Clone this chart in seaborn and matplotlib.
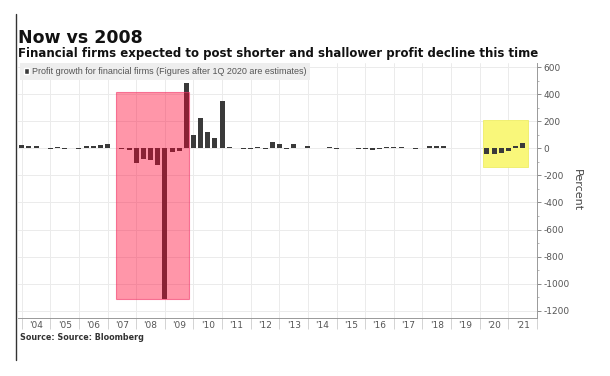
import pandas as pd
import seaborn as sns
import matplotlib.pyplot as plt
from matplotlib.patches import Rectangle, Patch
from matplotlib.lines import Line2D

# ---- data (quarterly YoY profit growth, %, first bar = 4Q 2003, plotted at quarter end)
first_period = (2003, 4)
growth = [
    28, 18, 16, 3,
    -2, 8, -2, 5,
    -2, 15, 20, 22,
    30, 4, -8, -15,
    -112, -80, -87, -125,
    -1110, -28, -22, 480,
    100, 222, 120, 73,
    347, 12, 2, -3,
    -6, 10, -2, 48,
    33, -4, 33, 3,
    18, 5, 5, 12,
    -6, 4, 2, -4,
    -4, -9, -4, 8,
    8, 12, 5, -3,
    5, 15, 15, 18,
    5, 1, 1, 1,
    1, -42, -45, -38,
    -22, 15, 38,
]
year_labels = ["'04", "'05", "'06", "'07", "'08", "'09", "'10", "'11", "'12",
               "'13", "'14", "'15", "'16", "'17", "'18", "'19", "'20", "'21"]
first_label_year = 2004
y_ticks = [-1200, -1000, -800, -600, -400, -200, 0, 200, 400, 600]
crisis_box = dict(x0=2007.31, x1=2009.86, y0=-1115, y1=415)
estimate_box = dict(x0=2020.1, x1=2021.67, y0=-135, y1=210)

title = "Now vs 2008"
subtitle = "Financial firms expected to post shorter and shallower profit decline this time"
legend_label = "Profit growth for financial firms (Figures after 1Q 2020 are estimates)"
source = "Source: Source: Bloomberg"

# ---- build table
p0 = first_period[0] * 4 + first_period[1] - 1
periods = [p0 + i for i in range(len(growth))]
df = pd.DataFrame({
    "quarter": [f"{p // 4}Q{p % 4 + 1}" for p in periods],
    "date": [p // 4 + (p % 4 + 1) / 4 for p in periods],
    "growth": growth,
})

sns.set_style("white")
plt.rcParams["font.family"] = ["DejaVu Sans"]

W, H = 610, 376
fig = plt.figure(figsize=(W / 100, H / 100), dpi=100)
L, R, T, B = 18, 537, 63, 318
ax = fig.add_axes([L / W, 1 - B / H, (R - L) / W, (B - T) / H])

bar_color = "#3a3a3a"
sns.barplot(data=df, x="date", y="growth", native_scale=True, width=0.7,
            color=bar_color, saturation=1, errorbar=None, linewidth=0, ax=ax,
            zorder=2)

ax.set_xlim(2003.87, 2022.0)
ax.set_ylim(-1253, 630)

# highlight boxes
ax.add_patch(Rectangle((estimate_box["x0"], estimate_box["y0"]),
                       estimate_box["x1"] - estimate_box["x0"],
                       estimate_box["y1"] - estimate_box["y0"],
                       facecolor="#f9f77a", edgecolor="#eeee66", lw=0.6, zorder=1))
ax.add_patch(Rectangle((crisis_box["x0"], crisis_box["y0"]),
                       crisis_box["x1"] - crisis_box["x0"],
                       crisis_box["y1"] - crisis_box["y0"],
                       facecolor=(1.0, 0.0, 0.19, 0.41), edgecolor=(0.95, 0.2, 0.4, 0.6),
                       lw=0.8, zorder=3))

# axes styling
ax.yaxis.tick_right()
ax.yaxis.set_label_position("right")
ax.set_yticks(y_ticks)
ax.set_yticks(list(range(-1200, 601, 100)), minor=True)
ax.set_yticklabels([str(v) for v in y_ticks])
ax.tick_params(axis="y", which="major", length=3, width=0.6, color="#777777",
               labelsize=6.5, labelcolor="#555555", pad=1.5, right=True, left=False)
ax.tick_params(axis="y", which="minor", length=1.5, width=0.5, color="#999999",
               right=True, left=False)

years = list(range(first_label_year, first_label_year + len(year_labels) + 1))
ax.set_xticks(years)
ax.set_xticklabels([""] * len(years))
ax.set_xticks([y + 0.5 for y in years[:-1]], minor=True)
ax.set_xticklabels(year_labels, minor=True)
ax.tick_params(axis="x", which="major", length=8, width=0.6, color="#cccccc",
               direction="out", bottom=True)
ax.tick_params(axis="x", which="minor", length=0, labelsize=6.5,
               labelcolor="#555555", pad=2)

ax.set_axisbelow(True)
ax.grid(axis="x", which="major", color="#ebebeb", lw=0.7, zorder=0)
ax.grid(axis="y", which="major", color="#ebebeb", lw=0.7, zorder=0)
ax.set_xlabel("")
ax.set_ylabel("Percent", rotation=270, fontsize=8, color="#444444", va="center")
ax.yaxis.set_label_coords((577 - L) / (R - L), 0.5)

for s in ["left", "top"]:
    ax.spines[s].set_visible(False)
for s in ["right", "bottom"]:
    ax.spines[s].set_color("#999999")
    ax.spines[s].set_linewidth(0.7)

leg = ax.legend(handles=[Patch(facecolor=bar_color, label=legend_label)],
                loc="upper left", bbox_to_anchor=(2 / (R - L), 1.0), frameon=True,
                facecolor="#eeeeee", edgecolor="none", fancybox=False, framealpha=1,
                prop={"family": "Liberation Sans", "size": 6.5},
                handlelength=0.55, handleheight=0.55, handletextpad=0.3,
                borderpad=0.45, borderaxespad=0, labelcolor="#555555")

# texts
fig.text(18 / W, 1 - 43 / H, title, fontsize=12.5, fontweight="bold",
         color="#111111", va="baseline", ha="left")
fig.text(18 / W, 1 - 57 / H, subtitle, fontsize=8.5, fontweight="bold",
         color="#111111", va="baseline", ha="left")
fig.text(20 / W, 1 - 340 / H, source, fontsize=5.8, fontweight="bold",
         color="#333333", va="baseline", ha="left")
fig.add_artist(Line2D([16 / W, 16 / W], [1 - 14 / H, 1 - 360 / H],
                      color="#333333", lw=1.0))

fig.savefig("out.png", dpi=100)
